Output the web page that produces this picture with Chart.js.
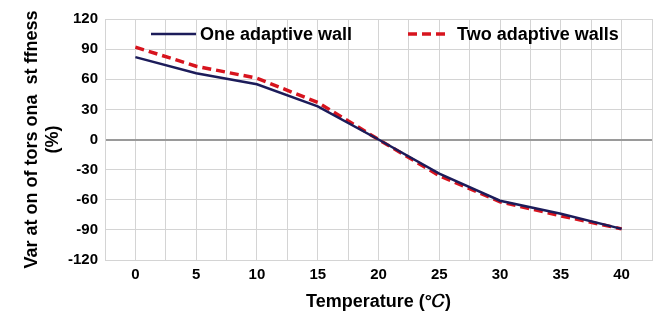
<!DOCTYPE html>
<html>
<head>
<meta charset="utf-8">
<script src="https://cdn.jsdelivr.net/npm/chart.js@4.4.1/dist/chart.umd.min.js"></script>
<style>
html,body{margin:0;padding:0;background:#fff;}
#wrap{width:653px;height:320px;position:relative;}
</style>
</head>
<body>
<div id="wrap"><canvas id="c" width="653" height="320"></canvas></div>
<script>
const temperatures = [0, 5, 10, 15, 20, 25, 30, 35, 40];
const oneWall = [82, 66, 55, 33, 0, -34, -61, -74, -89];
const twoWalls = [92, 73, 61, 37, 0, -36, -62, -76, -89];
const seriesNames = ['One adaptive wall', 'Two adaptive walls'];
const yTitle = ['Var at on of tors ona  st ffness', '(%)'];
const xTitle = 'Temperature (°\u{1D436})';

const FONT = '"Liberation Sans", Arial, sans-serif';

const insideLegend = {
  id: 'insideLegend',
  afterDraw(chart) {
    const ctx = chart.ctx;
    const items = [
      {ds: chart.data.datasets[0], x1: 151, x2: 196, tx: 200},
      {ds: chart.data.datasets[1], x1: 408, x2: 450, tx: 457}
    ];
    const y = 34;
    ctx.save();
    items.forEach(it => {
      ctx.beginPath();
      ctx.strokeStyle = it.ds.borderColor;
      ctx.lineWidth = it.ds.borderWidth;
      ctx.setLineDash(it.ds.borderDash || []);
      ctx.moveTo(it.x1, y);
      ctx.lineTo(it.x2, y);
      ctx.stroke();
      ctx.setLineDash([]);
      ctx.fillStyle = '#000';
      ctx.font = 'bold 18px ' + FONT;
      ctx.textBaseline = 'middle';
      ctx.textAlign = 'left';
      ctx.fillText(it.ds.label, it.tx, y + 1);
    });
    ctx.restore();
  }
};

new Chart(document.getElementById('c'), {
  type: 'line',
  data: {
    datasets: [
      {
        label: seriesNames[0],
        data: temperatures.map((t, i) => ({x: t, y: oneWall[i]})),
        borderColor: '#1c1c5a',
        borderWidth: 2.5,
        pointRadius: 0,
        tension: 0,
        fill: false
      },
      {
        label: seriesNames[1],
        data: temperatures.map((t, i) => ({x: t, y: twoWalls[i]})),
        borderColor: '#d7141e',
        borderWidth: 3.5,
        borderDash: [9, 5],
        pointRadius: 0,
        tension: 0,
        fill: false
      }
    ]
  },
  options: {
    responsive: false,
    animation: false,
    layout: {padding: {top: 19, right: 1, left: 0, bottom: 0}},
    plugins: {legend: {display: false}, tooltip: {enabled: false}},
    scales: {
      x: {
        type: 'linear',
        min: -2.5,
        max: 42.5,
        afterBuildTicks(scale) {
          const t = [];
          for (let v = -2.5; v <= 42.5001; v += 2.5) t.push({value: v});
          scale.ticks = t;
        },
        afterFit(scale) { scale.height = 60; scale.paddingRight = 0; scale.paddingLeft = 0; },
        ticks: {
          autoSkip: false,
          maxRotation: 0,
          padding: 6,
          color: '#000',
          font: {family: FONT, size: 15, weight: 'bold'},
          callback: v => (v >= 0 && v <= 40 && Math.abs(v % 5) < 1e-6) ? String(v) : ''
        },
        grid: {color: '#d4d4d4', lineWidth: 1, drawTicks: false},
        border: {color: '#d4d4d4'},
        title: {
          display: true,
          text: xTitle,
          color: '#000',
          font: {family: FONT, size: 18, weight: 'bold'},
          padding: {top: 0, bottom: 7}
        }
      },
      y: {
        min: -120,
        max: 120,
        afterFit(scale) { scale.width = 105; scale.paddingTop = 0; scale.paddingBottom = 0; },
        ticks: {
          stepSize: 30,
          padding: 7,
          color: '#000',
          font: {family: FONT, size: 15, weight: 'bold'}
        },
        grid: {
          drawTicks: false,
          color: c => c.tick && c.tick.value === 0 ? '#9a9a9a' : '#d4d4d4',
          lineWidth: c => c.tick && c.tick.value === 0 ? 2 : 1
        },
        border: {color: '#d4d4d4'},
        title: {
          display: true,
          text: yTitle,
          color: '#000',
          font: {family: FONT, size: 18, weight: 'bold', lineHeight: 1.2},
          padding: {top: 21, bottom: 4}
        }
      }
    }
  },
  plugins: [insideLegend]
});
</script>
</body>
</html>
